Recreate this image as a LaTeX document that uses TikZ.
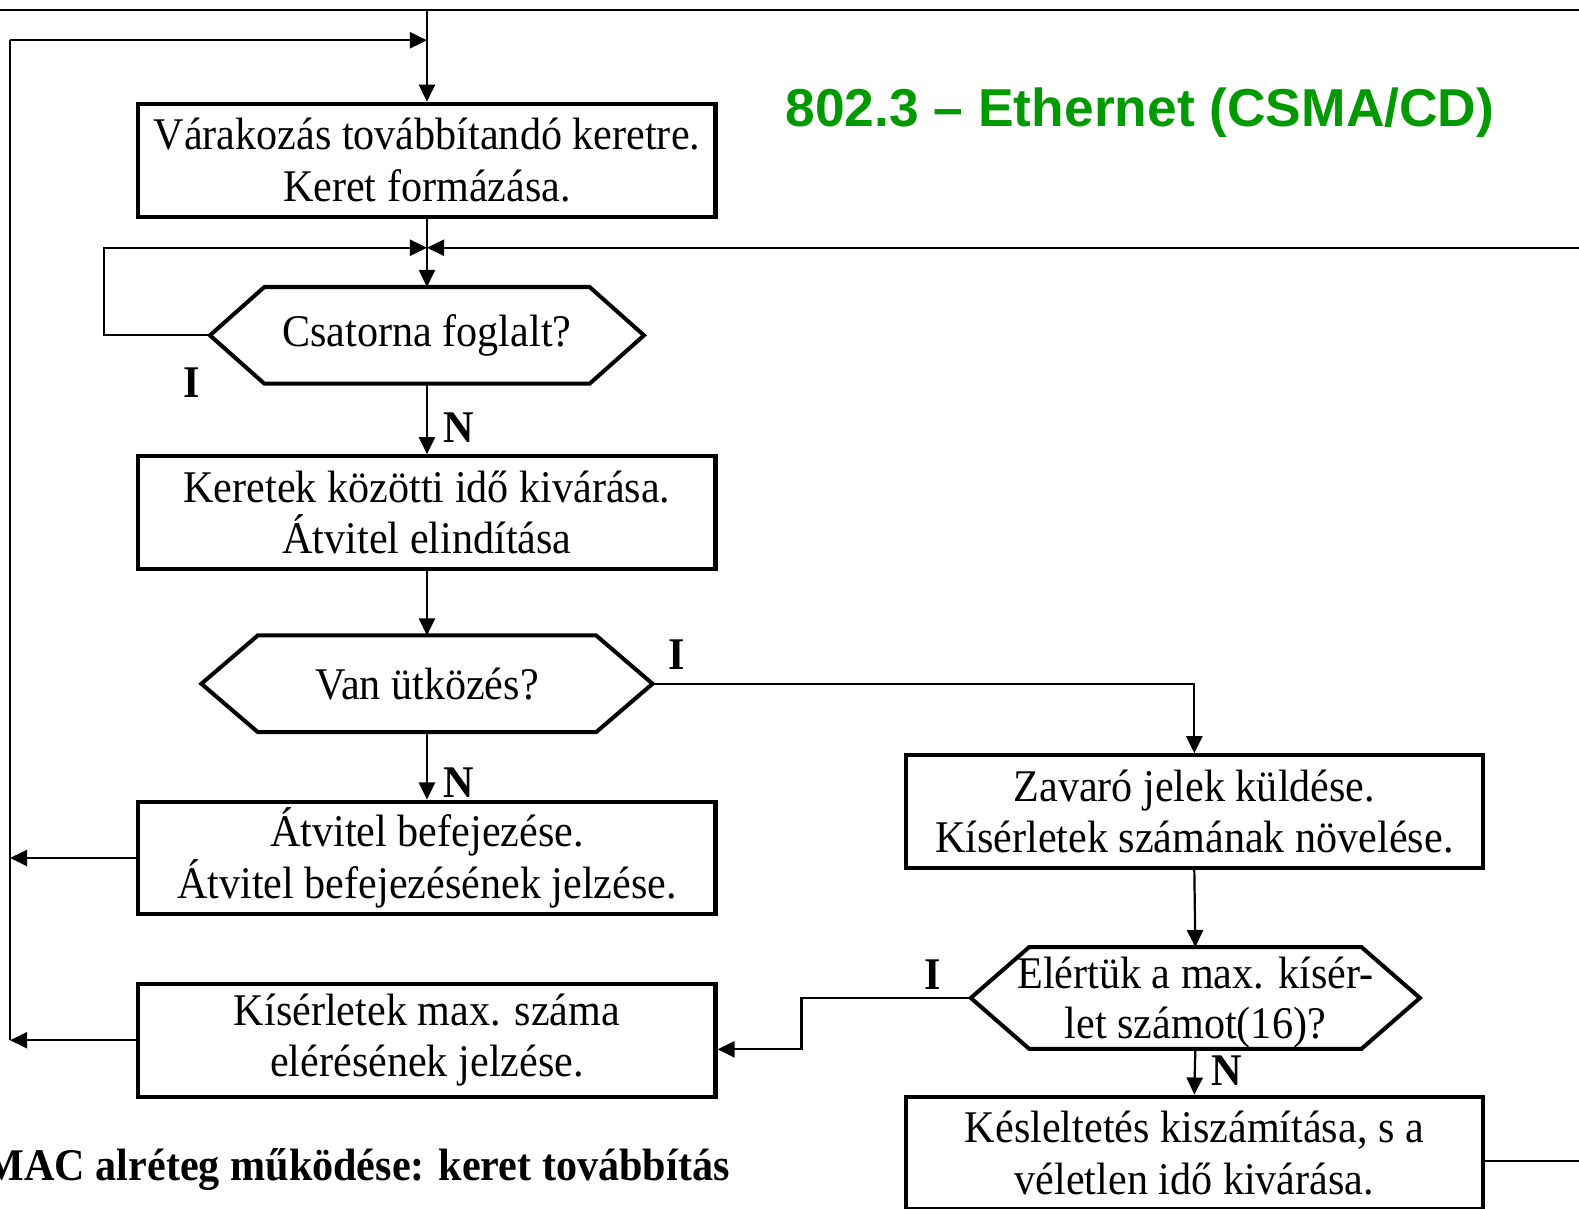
\documentclass[tikz,border=0pt]{standalone}
\usepackage{fontspec}
\setmainfont{Liberation Serif}[FakeStretch=0.93]
\newfontfamily\headfont{Liberation Sans}
\usetikzlibrary{arrows.meta,positioning}
\definecolor{ethgreen}{RGB}{0,153,0}
\tikzset{
  box/.style={draw, line width=4pt, inner sep=4pt, minimum width=573pt, minimum height=112pt,
    align=center, font=\fontsize{45}{51}\selectfont},
  hexa/.style={inner sep=0pt, outer sep=0pt, minimum height=96pt, align=center,
    font=\fontsize{45}{50}\selectfont},
  hexline/.style={line width=4pt, line join=miter},
  link/.style={line width=2.2pt},
  arr/.style={link, -{Triangle[length=17pt,width=16pt]}},
  yesno/.style={font=\fontsize{45}{45}\selectfont\bfseries},
}
% pointed frame round a decision node: node name, point length
\def\hexframe#1#2{
  \coordinate (#1-e) at ([xshift=#2]#1.east);
  \coordinate (#1-w) at ([xshift=-#2]#1.west);
  \draw[hexline] (#1.north west) -- (#1.north east) -- (#1-e) -- (#1.south east)
    -- (#1.south west) -- (#1-w) -- cycle;
}
\begin{document}
\begin{tikzpicture}[x=1pt,y=-1pt]
\useasboundingbox (0,0) rectangle (1568,1200);

% boxes and decisions
\node[box] (wait) at (424,159) {Várakozás továbbítandó keretre.\\Keret formázása.};
\node[hexa, minimum width=323pt] (busy) at (424,333) {Csatorna foglalt?};
\hexframe{busy}{54pt}
\node[box] (start) at (424,509) {Keretek közötti idő kivárása.\\Átvitel elindítása};
\node[hexa, minimum width=336pt] (coll) at (424,679) {Van ütközés?};
\hexframe{coll}{56pt}
\node[box] (done) at (424,852) {Átvitel befejezése.\\Átvitel befejezésének jelzése.};
\node[box] (maxsig) at (424,1033) {Kísérletek max. száma\\elérésének jelzése.};
\node[box] (jam) at (1186,806) {Zavaró jelek küldése.\\Kísérletek számának növelése.};
\node[hexa, minimum height=101pt] (maxq) at (1187,991)
  {\makebox[330pt]{Elértük a max. kísér-}\\\raisebox{0pt}[\height][0pt]{\makebox[330pt]{let számot(16)?}}};
\hexframe{maxq}{58pt}
\node[box] (backoff) at (1186,1145) {Késleltetés kiszámítása, s a\\véletlen idő kivárása.};

% labels
\node[font=\headfont\bfseries\fontsize{53}{53}\selectfont, text=ethgreen] (title) at (1132,112) {802.3 – Ethernet (CSMA/CD)};
\node[font=\bfseries\fontsize{45}{45}\selectfont, anchor=base east] (caption) at (728,1172) {MAC alréteg működése: keret továbbítás};
\node[yesno] (i1) at (190,380) {I};
\node[yesno] (n1) at (456,425) {N};
\node[yesno] (i2) at (672,650) {I};
\node[yesno] (n2) at (456,777) {N};
\node[yesno] (i3) at (926,968) {I};
\node[yesno] (n3) at (1218,1063) {N};

% bus lines
\coordinate (topleft) at (0,10);
\coordinate (topright) at (1568,10);
\coordinate (retbus) at (10,40);
\coordinate (merge) at (424,246);
\coordinate (loopL) at (103,246);
\coordinate (loopR) at (1568,246);
\coordinate (jog) at (796,991);
\coordinate (outR) at (1568,1153);

\draw[link] (topleft) -- (topright);
\draw[arr] (wait.north |- topleft) -- (wait.north);
\draw[arr] (retbus) -- (wait.north |- retbus);
\draw[link] (retbus) -- (retbus |- maxsig.west);
\draw[arr] (done.west) -- (done.west -| retbus);
\draw[arr] (maxsig.west) -- (maxsig.west -| retbus);

% main flow
\draw[arr] (wait.south) -- (busy.north);
\draw[arr] (busy-w) -| (loopL) -- (merge);
\draw[arr] (loopR) -- (merge);
\draw[arr] (busy.south) -- (start.north);
\draw[arr] (start.south) -- (coll.north);
\draw[arr] (coll.south) -- (done.north);
\draw[arr] (coll-e) -| (jam.north);
\draw[arr] (jam.south) -- (maxq.north);
\draw[arr] (maxq-w) -- (jog) |- ([yshift=-9pt]maxsig.east);
\draw[arr] (maxq.south) -- (backoff.north);
\draw[link] ([yshift=-8pt]backoff.east) -- (outR);
\end{tikzpicture}
\end{document}
